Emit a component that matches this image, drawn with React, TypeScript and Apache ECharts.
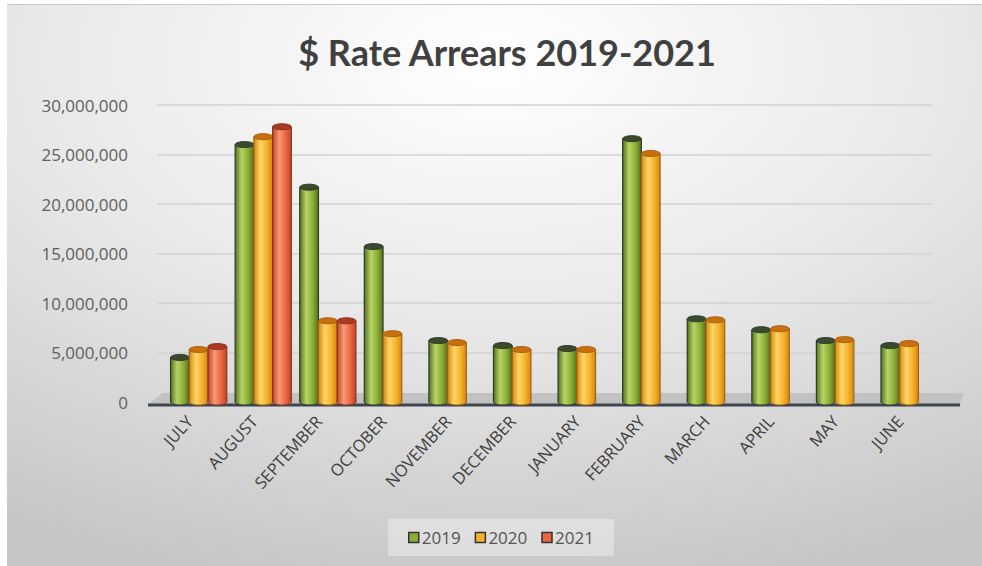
import React, { useEffect, useRef } from "react";
import * as echarts from "echarts";

const months = ["JULY", "AUGUST", "SEPTEMBER", "OCTOBER", "NOVEMBER", "DECEMBER", "JANUARY", "FEBRUARY", "MARCH", "APRIL", "MAY", "JUNE"];
const years = ["2019", "2020", "2021"];
const v2019 = [4500000, 26000000, 21700000, 15700000, 6200000, 5700000, 5400000, 26600000, 8400000, 7300000, 6200000, 5700000];
const v2020 = [5300000, 26800000, 8200000, 6900000, 6000000, 5300000, 5300000, 25100000, 8300000, 7400000, 6300000, 5900000];
const v2021 = [5600000, 27800000, 8200000, null, null, null, null, null, null, null, null, null];
const yTicks = [0, 5000000, 10000000, 15000000, 20000000, 25000000, 30000000];

const seriesValues = [v2019, v2020, v2021];
const palette = [
  { base: "#8aae36", light: "#b8d466", dark: "#56701c", cap: "#3b4a2c", stroke: "#2e3a30" },
  { base: "#f6b12c", light: "#ffd666", dark: "#d08a10", cap: "#c8700e", stroke: "#a8600e" },
  { base: "#eb6640", light: "#f79a76", dark: "#c0442a", cap: "#a93a22", stroke: "#8e3320" },
];

const W = 975;
const H = 561;
const GRID_LEFT = 150;
const GRID_RIGHT = 50;
const GRID_TOP = 100;
const GRID_BOTTOM = 164;

export default function App() {
  const ref = useRef<HTMLDivElement>(null);
  useEffect(() => {
    if (!ref.current) return;
    const chart = echarts.init(ref.current, undefined, { renderer: "svg" });
    const y0 = H - GRID_BOTTOM;
    const series = years.map((yr, si) => {
      const c = palette[si];
      const data: any[] = [];
      seriesValues[si].forEach((v, i) => {
        if (v !== null) data.push([i, v]);
      });
      return {
        type: "custom",
        name: yr,
        itemStyle: { color: c.base, borderColor: "#333", borderWidth: 1 },
        data,
        z: 3,
        renderItem: (params: any, api: any) => {
          const i = api.value(0);
          const v = api.value(1);
          const base = api.coord([i, 0]);
          const top = api.coord([i, v]);
          const bw = api.size([1, 0])[0] * 0.29;
          const x = base[0] + (si - 1) * bw;
          const rx = bw / 2;
          const ry = 3;
          const grad = new echarts.graphic.LinearGradient(0, 0, 1, 0, [
            { offset: 0, color: c.dark },
            { offset: 0.35, color: c.light },
            { offset: 0.7, color: c.base },
            { offset: 1, color: c.dark },
          ]);
          return {
            type: "group",
            children: [
              { type: "ellipse", shape: { cx: x + rx, cy: base[1], rx, ry }, style: { fill: grad, stroke: c.stroke, lineWidth: 1 } },
              { type: "rect", shape: { x, y: top[1], width: bw, height: base[1] - top[1] }, style: { fill: grad } },
              { type: "line", shape: { x1: x, y1: top[1], x2: x, y2: base[1] }, style: { stroke: c.stroke, lineWidth: 1.2 } },
              { type: "line", shape: { x1: x + bw, y1: top[1], x2: x + bw, y2: base[1] }, style: { stroke: c.stroke, lineWidth: 1.2 } },
              { type: "ellipse", shape: { cx: x + rx, cy: top[1], rx, ry }, style: { fill: c.cap, stroke: c.stroke, lineWidth: 1 } },
            ],
          };
        },
      };
    });

    chart.setOption({
      animation: false,
      backgroundColor: {
        type: "radial",
        x: 0.5,
        y: 0.1,
        r: 0.95,
        colorStops: [
          { offset: 0, color: "#ffffff" },
          { offset: 0.5, color: "#e8e8e8" },
          { offset: 1, color: "#c6c6c6" },
        ],
      },
      title: {
        text: "$ Rate Arrears 2019-2021",
        left: 495,
        textAlign: "center",
        top: 24,
        textStyle: { fontFamily: "Lato", fontWeight: "bold", fontSize: 36, color: "#404040" },
      },
      legend: {
        bottom: 10,
        left: 381,
        icon: "rect",
        itemWidth: 10,
        itemHeight: 10,
        itemGap: 14,
        padding: [10, 20],
        backgroundColor: "rgba(255,255,255,0.35)",
        textStyle: { fontFamily: "Open Sans", fontSize: 17, color: "#555", padding: [0, 0, 0, -2] },
        data: years.map((y, si) => ({ name: y, itemStyle: { color: palette[si].base, borderColor: "#333", borderWidth: 1.5 } })),
      },
      grid: { left: GRID_LEFT, right: GRID_RIGHT, top: GRID_TOP, bottom: GRID_BOTTOM },
      graphic: [
        {
          type: "polygon",
          z: 1,
          shape: { points: [[GRID_LEFT + 6, y0 - 9], [W - GRID_RIGHT + 32, y0 - 9], [W - GRID_RIGHT + 28, y0 + 2], [GRID_LEFT - 9, y0 + 2]] },
          style: { fill: "#c2c2c2" },
        },
        {
          type: "line",
          z: 1,
          shape: { x1: GRID_LEFT - 9, y1: y0 + 3, x2: W - GRID_RIGHT + 28, y2: y0 + 3 },
          style: { stroke: "#3e4650", lineWidth: 3 },
        },
      ],
      xAxis: {
        type: "category",
        data: months,
        axisLine: { show: false },
        axisTick: { show: false },
        axisLabel: { rotate: 48, margin: 16, fontFamily: "Open Sans", fontSize: 16.5, color: "#404040", interval: 0 },
      },
      yAxis: {
        type: "value",
        min: yTicks[0],
        max: yTicks[yTicks.length - 1],
        interval: yTicks[1] - yTicks[0],
        axisLine: { show: false },
        axisTick: { show: false },
        splitLine: { lineStyle: { color: "#d2d2d2", width: 1.5 } },
        axisLabel: {
          margin: 29,
          fontFamily: "Open Sans",
          fontSize: 17,
          color: "#606060",
          formatter: (v: number) => v.toLocaleString("en-US"),
        },
      },
      series,
    });
    return () => chart.dispose();
  }, []);

  return (
    <div style={{ position: "fixed", left: 0, top: 0, width: 982, height: 566, background: "#ffffff" }}>
      <div style={{ position: "absolute", left: 7, top: 4, width: W, height: 1, background: "#c9c9c9" }} />
      <div ref={ref} style={{ position: "absolute", left: 7, top: 5, width: W, height: H }} />
    </div>
  );
}
